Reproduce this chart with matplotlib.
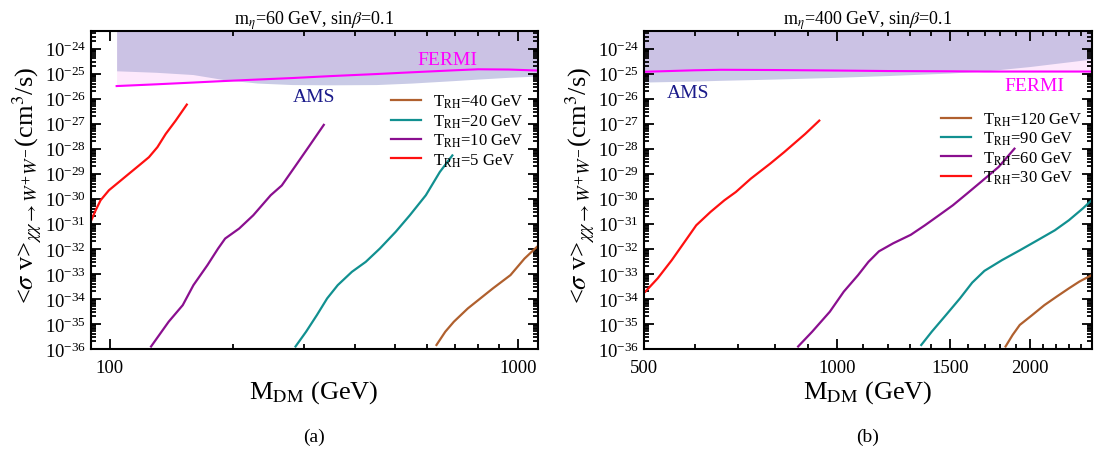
import numpy as np
import matplotlib
matplotlib.use('Agg')
import matplotlib.pyplot as plt
from matplotlib.ticker import FixedLocator, NullFormatter, LogLocator, FixedFormatter

plt.rcParams['font.family'] = ['Liberation Serif', 'DejaVu Serif']
plt.rcParams['mathtext.fontset'] = 'stix'

# ---- panel (a): m_eta = 60 GeV ----
a_red_m = [89.8, 92.4, 95.0, 99.6, 105.4, 111.5, 118, 124.8, 130.9, 137.2, 145.1, 154.5]
a_red_lg = [-30.92, -30.46, -30.06, -29.66, -29.33, -29.00, -28.67, -28.34, -27.94, -27.41, -26.88, -26.24]
a_pur_m = [126.3, 139.5, 151, 160.4, 173.6, 184.3, 191.8, 207.6, 224.8, 248, 264, 285.7, 309, 334.6]
a_pur_lg = [-35.9, -34.91, -34.25, -33.45, -32.65, -31.99, -31.59, -31.19, -30.66, -29.86, -29.47, -28.67, -27.87, -27.05]
a_teal_m = [285.3, 302.8, 321.7, 341, 362, 392, 424, 459, 502, 543.6, 595, 643.9, 691]
a_teal_lg = [-35.9, -35.31, -34.65, -33.98, -33.45, -32.92, -32.52, -31.99, -31.32, -30.66, -29.86, -28.93, -28.27]
a_brn_m = [631.8, 664, 697, 754, 868.6, 959, 1038, 1124]
a_brn_lg = [-35.84, -35.31, -34.91, -34.38, -33.58, -33.05, -32.39, -31.86]
a_labels = ['T$_{\\rm RH}$=40 GeV', 'T$_{\\rm RH}$=20 GeV', 'T$_{\\rm RH}$=10 GeV', 'T$_{\\rm RH}$=5 GeV']

a_bound_m = [104, 130, 160, 190, 230, 280, 350, 450, 550, 700, 800, 950, 1120]
a_fermi_lg = [-25.5, -25.43, -25.36, -25.30, -25.24, -25.18, -25.10, -25.02, -24.95, -24.87, -24.83, -24.84, -24.88]
a_ams_lg = [-24.89, -24.95, -25.04, -25.24, -25.38, -25.44, -25.45, -25.44, -25.38, -25.28, -25.22, -25.15, -25.10]

# ---- panel (b): m_eta = 400 GeV ----
b_red_m = [502.5, 525.2, 552.6, 580.9, 603.3, 634.8, 667.6, 695.6, 733.8, 786.7, 827.3, 892.5, 938.6]
b_red_lg = [-33.71, -33.18, -32.45, -31.66, -31.06, -30.53, -30.06, -29.73, -29.20, -28.60, -28.14, -27.41, -26.88]
b_pur_m = [870, 915, 975, 1025, 1079, 1120, 1163, 1224, 1304, 1372, 1443, 1517, 1595, 1683, 1788, 1892.6]
b_pur_lg = [-35.9, -35.31, -34.51, -33.71, -33.05, -32.52, -32.10, -31.78, -31.44, -31.06, -30.66, -30.26, -29.80, -29.30, -28.73, -28.00]
b_teal_m = [1354, 1406, 1479, 1556, 1626, 1699, 1810, 1929, 2055, 2188, 2301, 2419, 2497]
b_teal_lg = [-35.84, -35.31, -34.65, -33.98, -33.35, -32.88, -32.45, -32.06, -31.66, -31.26, -30.86, -30.39, -30.06]
b_brn_m = [1833, 1880, 1929, 2016, 2107, 2202, 2301, 2389, 2497]
b_brn_lg = [-35.9, -35.44, -35.04, -34.65, -34.25, -33.91, -33.58, -33.31, -33.05]
b_labels = ['T$_{\\rm RH}$=120 GeV', 'T$_{\\rm RH}$=90 GeV', 'T$_{\\rm RH}$=60 GeV', 'T$_{\\rm RH}$=30 GeV']

b_bound_m = [500, 600, 660, 800, 1000, 1200, 1500, 1700, 2000, 2500]
b_fermi_lg = [-24.93, -24.87, -24.85, -24.86, -24.88, -24.90, -24.91, -24.92, -24.92, -24.92]
b_ams_lg = [-25.34, -25.30, -25.27, -25.22, -25.15, -25.08, -24.98, -24.90, -24.72, -24.42]

y_decades = list(range(-36, -23))

col_brn = '#b0602e'
col_teal = '#119090'
col_pur = '#8a0f8f'
col_red = '#ff1010'
col_fermi = '#ff00ff'
col_ams = '#1a1a8a'
top = 5e-24


def lin(v):
    return 10.0 ** np.array(v)


def draw_bounds(ax, m, fermi, ams):
    ax.fill_between(m, lin(ams), top, color='#c9cbe6', lw=0)
    ax.fill_between(m, lin(fermi), top, color='#fde9fc', lw=0)
    ax.fill_between(m, np.maximum(lin(ams), lin(fermi)), top, color='#cbc2e4', lw=0)
    ax.plot(m, lin(fermi), color=col_fermi, lw=1.5)


def style(ax):
    ax.set_yscale('log')
    ax.set_xscale('log')
    ax.set_ylim(1e-36, top)
    ax.yaxis.set_major_locator(FixedLocator(lin(y_decades)))
    ax.yaxis.set_minor_locator(LogLocator(base=10, subs=np.arange(2, 10), numticks=100))
    ax.yaxis.set_minor_formatter(NullFormatter())
    ax.tick_params(which='both', direction='in', top=True, right=True, labelsize=13.5, width=1.3)
    ax.tick_params(which='major', length=7)
    ax.tick_params(which='minor', length=3.5)
    ax.tick_params(axis='x', which='major', pad=7)
    for s in ax.spines.values():
        s.set_linewidth(1.5)


fig = plt.figure(figsize=(10.95, 4.52), dpi=100)
ax1 = fig.add_axes([0.0831, 0.2257, 0.4082, 0.7035])
ax2 = fig.add_axes([0.5881, 0.2257, 0.4091, 0.7035])

# (a)
draw_bounds(ax1, a_bound_m, a_fermi_lg, a_ams_lg)
for m, lg, c, lab in zip([a_brn_m, a_teal_m, a_pur_m, a_red_m],
                         [a_brn_lg, a_teal_lg, a_pur_lg, a_red_lg],
                         [col_brn, col_teal, col_pur, col_red], a_labels):
    ax1.plot(m, lin(lg), color=c, lw=1.6, label=lab)
style(ax1)
ax1.set_xlim(90, 1120)
ax1.xaxis.set_major_locator(FixedLocator([100, 1000]))
ax1.xaxis.set_major_formatter(FixedFormatter(['100', '1000']))
ax1.xaxis.set_minor_locator(FixedLocator([200, 300, 400, 500, 600, 700, 800, 900]))
ax1.xaxis.set_minor_formatter(NullFormatter())
ax1.text(673, 3.8e-25, 'FERMI', color=col_fermi, fontsize=14, ha='center', va='center')
ax1.text(316, 1.2e-26, 'AMS', color=col_ams, fontsize=14, ha='center', va='center')
ax1.legend(loc='upper left', bbox_to_anchor=(0.671, 0.805), frameon=False, fontsize=12,
           handlelength=1.8, handletextpad=0.7, labelspacing=0.12, borderpad=0, borderaxespad=0)
ax1.set_title('m$_\\eta$=60 GeV, sin$\\beta$=0.1', fontsize=13, pad=5)

# (b)
draw_bounds(ax2, b_bound_m, b_fermi_lg, b_ams_lg)
for m, lg, c, lab in zip([b_brn_m, b_teal_m, b_pur_m, b_red_m],
                         [b_brn_lg, b_teal_lg, b_pur_lg, b_red_lg],
                         [col_brn, col_teal, col_pur, col_red], b_labels):
    ax2.plot(m, lin(lg), color=c, lw=1.6, label=lab)
style(ax2)
ax2.set_xlim(500, 2500)
ax2.xaxis.set_major_locator(FixedLocator([500, 1000, 1500, 2000]))
ax2.xaxis.set_major_formatter(FixedFormatter(['500', '1000', '1500', '2000']))
ax2.xaxis.set_minor_locator(FixedLocator([600, 700, 800, 900, 1100, 1200, 1300, 1400, 1600, 1700,
                                          1800, 1900, 2100, 2200, 2300, 2400]))
ax2.xaxis.set_minor_formatter(NullFormatter())
ax2.text(2032, 3.2e-26, 'FERMI', color=col_fermi, fontsize=14, ha='center', va='center')
ax2.text(585, 1.7e-26, 'AMS', color=col_ams, fontsize=14, ha='center', va='center')
ax2.legend(loc='upper left', bbox_to_anchor=(0.663, 0.75), frameon=False, fontsize=12,
           handlelength=1.8, handletextpad=0.7, labelspacing=0.12, borderpad=0, borderaxespad=0)
ax2.set_title('m$_\\eta$=400 GeV, sin$\\beta$=0.1', fontsize=13, pad=5)

ylab = '<$\\sigma$ v>$_{\\chi\\chi\\rightarrow W^{+}W^{-}}$(cm$^3$/s)'
for xc, xy, cap in [(314, 27, '(a)'), (868, 580, '(b)')]:
    fig.text(xc / 1095, 1 - 393 / 452, 'M$_{\\rm DM}$ (GeV)', fontsize=19, ha='center', va='center')
    fig.text(xy / 1095, 1 - 186 / 452, ylab, fontsize=19, ha='center', va='center', rotation=90)
    fig.text(xc / 1095, 1 - 437 / 452, cap, fontsize=14, ha='center', va='center')

fig.savefig('out.png', dpi=100)
